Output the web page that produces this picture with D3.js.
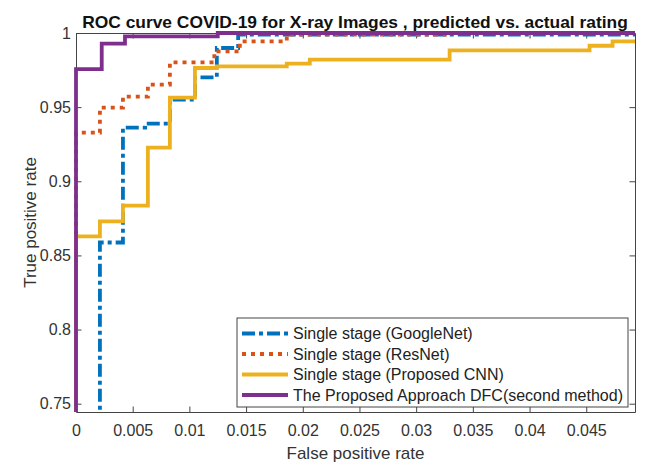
<!DOCTYPE html>
<html>
<head>
<meta charset="utf-8">
<script src="https://cdn.jsdelivr.net/npm/d3@7"></script>
<style>
  html, body { margin: 0; padding: 0; background: #fff; }
  svg { display: block; }
  text { font-family: "Liberation Sans", Arial, sans-serif; }
</style>
</head>
<body>
<svg id="chart" width="648" height="468"></svg>
<script>
// ROC step curves: each point is (false positive rate where the step happens, new true positive rate)
const fprGoogleNet = [0, 0.00211, 0.00414, 0.0061, 0.00828, 0.01049, 0.01242, 0.0143, 0.0493];
const tprGoogleNet = [0.70, 0.8587, 0.9362, 0.9389, 0.9551, 0.9701, 0.9899, 0.9989, 0.9989];

const fprResNet = [0, 0, 0.00211, 0.00414, 0.00634, 0.00828, 0.0122, 0.01445, 0.01859, 0.033, 0.0493];
const tprResNet = [0.70, 0.9328, 0.9497, 0.9571, 0.9652, 0.9802, 0.9876, 0.9943, 0.9989, 1.0, 1.0];

const fprCNN = [0, 0, 0.00211, 0.00414, 0.00634, 0.00828, 0.01049, 0.01242, 0.01859, 0.02062, 0.03295, 0.04529, 0.04732, 0.0493];
const tprCNN = [0.70, 0.8629, 0.8730, 0.8836, 0.9227, 0.9564, 0.9764, 0.9775, 0.9793, 0.9820, 0.9883, 0.9914, 0.9943, 0.9943];

const fprDFC = [0, 0, 0.00227, 0.00432, 0.0125, 0.0493];
const tprDFC = [0.70, 0.9757, 0.9928, 0.9977, 1.0, 1.0];

const seriesNames = [
  "Single stage (GoogleNet)",
  "Single stage (ResNet)",
  "Single stage (Proposed CNN)",
  "The Proposed Approach DFC(second method)"
];

const xTicks = [0, 0.005, 0.01, 0.015, 0.02, 0.025, 0.03, 0.035, 0.04, 0.045];
const xTickLabels = ["0", "0.005", "0.01", "0.015", "0.02", "0.025", "0.03", "0.035", "0.04", "0.045"];
const yTicks = [0.75, 0.8, 0.85, 0.9, 0.95, 1];
const yTickLabels = ["0.75", "0.8", "0.85", "0.9", "0.95", "1"];

const titleText = "ROC curve COVID-19 for X-ray Images , predicted vs. actual rating";
const xLabel = "False positive rate";
const yLabel = "True positive rate";

// ---- layout & styles ----
const plot = { left: 76, right: 635, top: 33, bottom: 412 };
const styles = [
  { color: "#0072BD", width: 3.8, dash: "13,4,4,4" },
  { color: "#D95319", width: 3.8, dash: "4,5" },
  { color: "#EDB120", width: 3.8, dash: null },
  { color: "#7E2F8E", width: 3.8, dash: null }
];

const svg = d3.select("#chart");

const x = d3.scaleLinear().domain([0, 0.0493]).range([plot.left, plot.right]);
const y = d3.scaleLinear().domain([0.7444, 1]).range([plot.bottom, plot.top]);

const series = [
  d3.zip(fprGoogleNet, tprGoogleNet),
  d3.zip(fprResNet, tprResNet),
  d3.zip(fprCNN, tprCNN),
  d3.zip(fprDFC, tprDFC)
];

// clip keeps the data inside the axes, leaving room for stroke width at top/left/right
svg.append("clipPath").attr("id", "plotClip")
  .append("rect")
  .attr("x", plot.left - 3).attr("y", plot.top - 3)
  .attr("width", plot.right - plot.left + 6)
  .attr("height", plot.bottom - plot.top + 3);

const line = d3.line()
  .x(d => x(d[0]))
  .y(d => y(d[1]))
  .curve(d3.curveStepAfter);

const tickColor = "#333";
const fontSize = 16;

// axes (box with inward ticks on all sides)
const tickLen = 5.5;
const axisG = svg.append("g");

const xAxisB = d3.axisBottom(x).tickValues(xTicks).tickSizeInner(-tickLen).tickSizeOuter(0)
  .tickPadding(13).tickFormat((d, i) => xTickLabels[i]);
const xAxisT = d3.axisTop(x).tickValues(xTicks).tickSizeInner(-tickLen).tickSizeOuter(0).tickFormat("");
const yAxisL = d3.axisLeft(y).tickValues(yTicks).tickSizeInner(-tickLen).tickSizeOuter(0)
  .tickPadding(5).tickFormat((d, i) => yTickLabels[i]);
const yAxisR = d3.axisRight(y).tickValues(yTicks).tickSizeInner(-tickLen).tickSizeOuter(0).tickFormat("");

axisG.append("g").attr("transform", `translate(0,${plot.bottom})`).call(xAxisB);
axisG.append("g").attr("transform", `translate(0,${plot.top})`).call(xAxisT);
axisG.append("g").attr("transform", `translate(${plot.left},0)`).call(yAxisL);
axisG.append("g").attr("transform", `translate(${plot.right},0)`).call(yAxisR);

axisG.selectAll(".domain").attr("stroke", "#444").attr("stroke-width", 1);
axisG.selectAll(".tick line").attr("stroke", "#444").attr("stroke-width", 1);
axisG.selectAll(".tick text")
  .attr("fill", tickColor)
  .style("font-size", fontSize + "px")
  .style("font-family", "'Liberation Sans', Arial, sans-serif");

// curves
const curves = svg.append("g").attr("clip-path", "url(#plotClip)");
series.forEach((pts, i) => {
  const s = styles[i];
  curves.append("path")
    .datum(pts)
    .attr("d", line)
    .attr("fill", "none")
    .attr("stroke", s.color)
    .attr("stroke-width", s.width)
    .attr("stroke-dasharray", s.dash)
    .attr("stroke-linejoin", "miter");
});

// title, fitted to its width
const title = svg.append("text")
  .attr("x", 355).attr("y", 28)
  .attr("text-anchor", "middle")
  .attr("font-weight", "bold")
  .attr("fill", "#111")
  .style("font-size", "17px")
  .text(titleText);
{
  const w = title.node().getComputedTextLength();
  title.style("font-size", (17 * 546 / w).toFixed(2) + "px");
}

// axis labels
svg.append("text")
  .attr("x", (plot.left + plot.right) / 2).attr("y", 459)
  .attr("text-anchor", "middle")
  .attr("fill", tickColor)
  .style("font-size", "17px")
  .text(xLabel);

svg.append("text")
  .attr("transform", `translate(36,${(plot.top + plot.bottom) / 2}) rotate(-90)`)
  .attr("text-anchor", "middle")
  .attr("fill", tickColor)
  .style("font-size", "17px")
  .text(yLabel);

// legend
const leg = { x: 237, y: 318, w: 391, h: 89, rowH: 20.5, firstRow: 333.5 };
const legendG = svg.append("g");
legendG.append("rect")
  .attr("x", leg.x).attr("y", leg.y)
  .attr("width", leg.w).attr("height", leg.h)
  .attr("fill", "#fff")
  .attr("stroke", "#444")
  .attr("stroke-width", 1);

seriesNames.forEach((name, i) => {
  const s = styles[i];
  const ry = leg.firstRow + i * leg.rowH;
  legendG.append("line")
    .attr("x1", 242).attr("x2", 288)
    .attr("y1", ry).attr("y2", ry)
    .attr("stroke", s.color)
    .attr("stroke-width", s.width)
    .attr("stroke-dasharray", s.dash);
  legendG.append("text")
    .attr("x", 293).attr("y", ry)
    .attr("dy", "0.35em")
    .attr("fill", "#222")
    .style("font-size", "16px")
    .text(name);
});
</script>
</body>
</html>
